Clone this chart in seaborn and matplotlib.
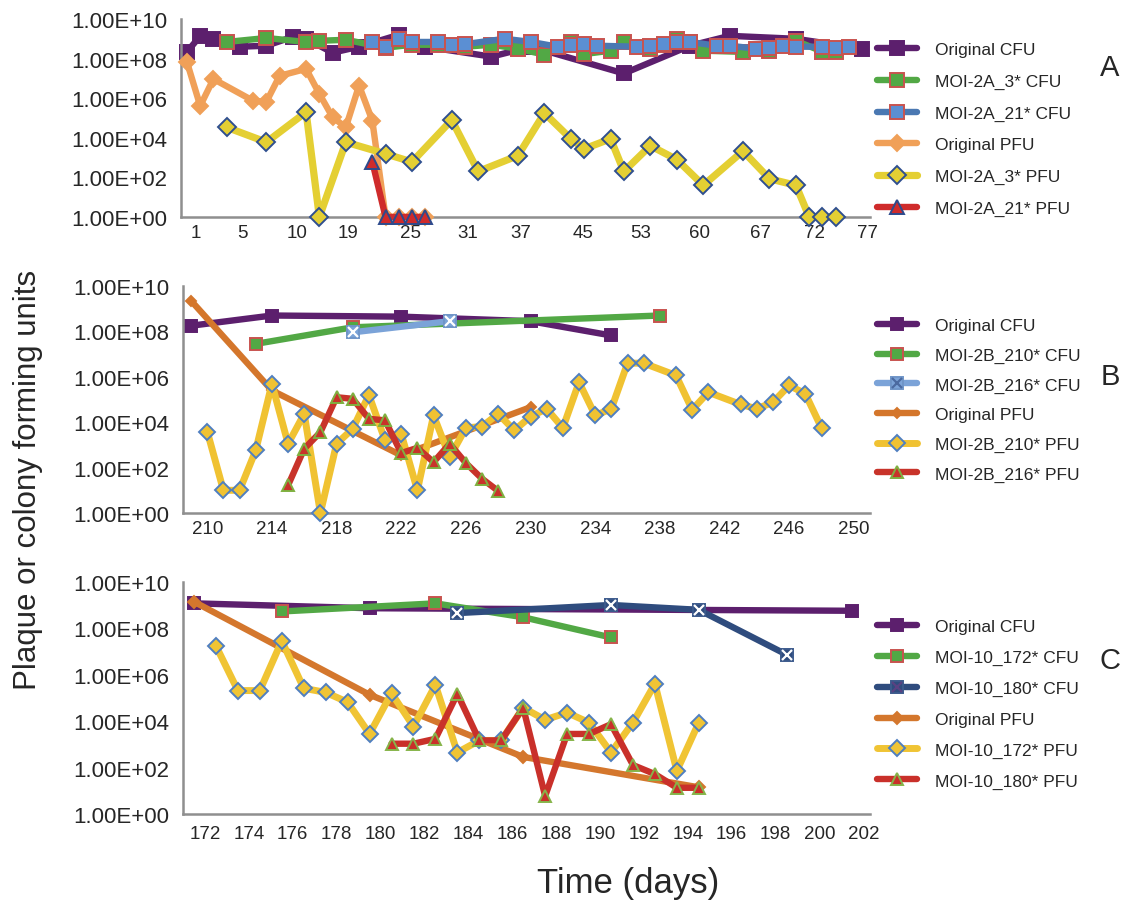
import numpy as np
import matplotlib
matplotlib.use("Agg")
import matplotlib.pyplot as plt
import seaborn as sns
from matplotlib.lines import Line2D
from matplotlib.legend_handler import HandlerTuple

sns.set_theme(style="white")
plt.rcParams['font.family'] = ['Liberation Sans', 'DejaVu Sans']

# ---------------- data (log10 of CFU / PFU) ----------------
# Panel A : x = sample index on the category axis
a_tick_labels = ["1", "5", "10", "19", "25", "31", "37", "45", "53", "60", "67", "72", "77"]
a_tick_pos = [0.7, 4.2, 8.3, 12.2, 16.9, 21.2, 25.2, 29.9, 34.3, 38.7, 43.3, 47.4, 51.4]

a_orig_cfu_x = [0, 1, 2, 4, 6, 8, 9, 11, 13, 16, 18, 23, 26, 33, 38, 41, 46, 51]
a_orig_cfu = [8.34, 9.14, 9.0, 8.6, 8.65, 9.1, 9.0, 8.3, 8.6, 9.2, 8.6, 8.1, 8.6, 7.25, 8.65, 9.15, 9.0, 8.5]

a_m3_cfu_x = [3, 6, 9, 10, 12, 15, 17, 19, 21, 23, 25, 27, 29, 30, 32, 33, 35, 36, 37, 38, 39, 42, 44, 46, 48, 49]
a_m3_cfu = [8.84, 9.04, 8.84, 8.9, 8.95, 8.55, 8.7, 8.7, 8.6, 8.7, 8.5, 8.2, 8.83, 8.23, 8.4, 8.83, 8.5, 8.7,
            9.0, 8.84, 8.4, 8.34, 8.4, 8.9, 8.35, 8.34]

a_m21_cfu_x = [14, 15, 16, 17, 19, 20, 21, 24, 26, 28, 29, 30, 31, 34, 35, 36, 37, 38, 40, 41, 43, 44, 45, 46, 48, 49, 50]
a_m21_cfu = [8.84, 8.6, 9.0, 8.84, 8.84, 8.7, 8.73, 9.0, 8.84, 8.6, 8.7, 8.73, 8.65, 8.6, 8.65, 8.73, 8.84,
             8.84, 8.65, 8.65, 8.5, 8.55, 8.65, 8.6, 8.6, 8.55, 8.6]

a_orig_pfu_x = [0, 1, 2, 5, 6, 7, 9, 10, 11, 12, 13, 14, 15, 16, 17, 18]
a_orig_pfu = [7.83, 5.61, 6.97, 5.87, 5.82, 7.13, 7.48, 6.22, 5.04, 4.53, 6.64, 4.87, 0, 0, 0, 0]

a_m3_pfu_x = [3, 6, 9, 10, 12, 15, 17, 20, 22, 25, 27, 29, 30, 32, 33, 35, 37, 39, 42, 44, 46, 47, 48, 49]
a_m3_pfu = [4.53, 3.78, 5.3, 0, 3.78, 3.19, 2.78, 4.9, 2.3, 3.1, 5.25, 3.95, 3.44, 3.95, 2.3, 3.6, 2.9, 1.6,
            3.33, 1.93, 1.6, 0, 0, 0]

a_m21_pfu_x = [14, 15, 16, 17, 18]
a_m21_pfu = [2.79, 0, 0, 0, 0]

# Panel B : x = day
b_tick_labels = [str(d) for d in range(210, 251, 4)]

b_orig_cfu_x = [209, 214, 222, 230, 235]
b_orig_cfu = [8.25, 8.7, 8.65, 8.45, 7.82]
b_m210_cfu_x = [213, 219, 238]
b_m210_cfu = [7.45, 8.18, 8.7]
b_m216_cfu_x = [219, 225]
b_m216_cfu = [7.96, 8.45]
b_orig_pfu_x = [209, 214, 222, 230]
b_orig_pfu = [9.35, 5.4, 2.54, 4.66]
b_m210_pfu_x = [210, 211, 212, 213, 214, 215, 216, 217, 218, 219, 220, 221, 222, 223, 224, 225, 226, 227, 228,
                229, 230, 231, 232, 233, 234, 235, 236, 237, 239, 240, 241, 243, 244, 245, 246, 247, 248]
b_m210_pfu = [3.59, 1.0, 1.0, 2.76, 5.69, 3.05, 4.37, 0, 3.05, 3.71, 5.2, 3.2, 3.49, 1.0, 4.3, 2.46, 3.75, 3.81,
              4.37, 3.64, 4.25, 4.59, 3.75, 5.76, 4.3, 4.59, 6.6, 6.6, 6.06, 4.55, 5.32, 4.78, 4.59, 4.88, 5.62,
              5.25, 3.75]
b_m216_pfu_x = [215, 216, 217, 218, 219, 220, 221, 222, 223, 224, 225, 226, 227, 228]
b_m216_pfu = [1.22, 2.83, 3.56, 5.1, 5.03, 4.15, 4.08, 2.64, 2.87, 2.24, 3.05, 2.2, 1.51, 0.97]

# Panel C : x = day (category), labels every second day
c_tick_labels = [str(d) for d in range(172, 203, 2)]

c_orig_cfu_x = [172, 180, 202]
c_orig_cfu = [9.08, 8.87, 8.76]
c_m172_cfu_x = [176, 183, 187, 191]
c_m172_cfu = [8.73, 9.08, 8.48, 7.61]
c_m180_cfu_x = [184, 191, 195, 199]
c_m180_cfu = [8.66, 9.01, 8.8, 6.87]
c_orig_pfu_x = [172, 180, 187, 195]
c_orig_pfu = [9.15, 5.14, 2.46, 1.15]
c_m172_pfu_x = [173, 174, 175, 176, 177, 178, 179, 180, 181, 182, 183, 184, 185, 186, 187, 188, 189, 190,
                191, 192, 193, 194, 195]
c_m172_pfu = [7.25, 5.32, 5.32, 7.46, 5.42, 5.24, 4.82, 3.45, 5.21, 3.77, 5.56, 2.65, 3.17, 3.17, 4.58, 4.06,
              4.37, 3.94, 2.65, 3.94, 5.61, 1.86, 3.94]
c_m180_pfu_x = [181, 182, 183, 184, 185, 186, 187, 188, 189, 190, 191, 192, 193, 194, 195]
c_m180_pfu = [3.03, 3.03, 3.24, 5.18, 3.17, 3.17, 4.58, 0.77, 3.45, 3.45, 3.87, 2.11, 1.72, 1.13, 1.13]

y_tick_labels = ["1.00E+00", "1.00E+02", "1.00E+04", "1.00E+06", "1.00E+08", "1.00E+10"]

# ---------------- styles ----------------
PURPLE = '#5c1f6d'
GREEN = '#52a845'
REDEDGE = '#c8534f'
TXT = '#262626'
SPINE = '#8f8f8f'

W, H = 1134, 904
fig = plt.figure(figsize=(W / 100, H / 100), dpi=100)


def axes_px(l, t, r, b):
    return fig.add_axes([l / W, 1 - b / H, (r - l) / W, (b - t) / H])


def series(ax, x, logs, color, marker, ms, mfc, mec, lw=4.6, z=2, mew=1.4):
    sns.lineplot(x=np.asarray(x, float), y=10.0 ** np.asarray(logs, float), ax=ax, color=color,
                 marker=marker, markersize=ms, markerfacecolor=mfc, markeredgecolor=mec,
                 markeredgewidth=mew, linewidth=lw, sort=False, estimator=None, zorder=z,
                 clip_on=False, legend=False)
    return Line2D([0], [0], color=color, lw=lw, marker=marker, markersize=ms, markerfacecolor=mfc,
                  markeredgecolor=mec, markeredgewidth=mew)


def xmarks(ax, x, logs, color, ms, z):
    sns.lineplot(x=np.asarray(x, float), y=10.0 ** np.asarray(logs, float), ax=ax, color=color,
                 marker='x', markersize=ms * 0.75, markeredgewidth=1.6, linewidth=0, sort=False,
                 estimator=None, zorder=z, clip_on=False, legend=False)
    return Line2D([0], [0], color=color, lw=0, marker='x', markersize=ms * 0.75, markeredgewidth=1.6)


def style_axis(ax, tickdir):
    ax.set_yscale('log')
    ax.set_ylim(1, 1e10)
    ax.set_yticks([1e0, 1e2, 1e4, 1e6, 1e8, 1e10])
    ax.set_yticklabels(y_tick_labels, fontsize=16, color=TXT)
    ax.yaxis.set_minor_locator(matplotlib.ticker.NullLocator())
    for s in ['top', 'right']:
        ax.spines[s].set_visible(False)
    for s in ['left', 'bottom']:
        ax.spines[s].set_color(SPINE)
        ax.spines[s].set_linewidth(1.8)
    ax.tick_params(axis='y', which='major', direction='out', length=4, width=1.5, color=SPINE, pad=6)
    ax.tick_params(axis='x', which='both', direction=tickdir, length=6 if tickdir == 'inout' else 4,
                   width=1.5, color=SPINE, labelsize=13.5, labelcolor=TXT, pad=5)
    ax.set_facecolor('white')
    ax.set_xlabel('')
    ax.set_ylabel('')


def add_legend(handles, labels, top_px, spacing):
    fig.legend(handles, labels, loc='upper left', bbox_to_anchor=(877 / W, 1 - top_px / H),
               frameon=False, fontsize=12.5, handlelength=2.3, handletextpad=1.05, labelspacing=spacing,
               borderpad=0, borderaxespad=0, numpoints=1,
               handler_map={tuple: HandlerTuple(ndivide=1)}, labelcolor=TXT)


# ---------------- panel A ----------------
axA = axes_px(181, 20, 870, 218)
h = []
h.append(series(axA, a_orig_cfu_x, a_orig_cfu, PURPLE, 's', 10, PURPLE, PURPLE, z=2))
h.append(series(axA, a_m3_cfu_x, a_m3_cfu, GREEN, 's', 10, GREEN, REDEDGE, z=3))
h.append(series(axA, a_m21_cfu_x, a_m21_cfu, '#4a78b2', 's', 10, '#5b8fd3', REDEDGE, z=4))
h.append(series(axA, a_orig_pfu_x, a_orig_pfu, '#f0a058', 'D', 8, '#f0a058', '#f0a058', z=5))
h.append(series(axA, a_m3_pfu_x, a_m3_pfu, '#e4cf33', 'D', 9, '#e4cf33', '#2f4f8f', lw=5.2, z=6))
h.append(series(axA, a_m21_pfu_x, a_m21_pfu, '#cf2b2b', '^', 10, '#cf2b2b', '#2d4a8c', z=7))
style_axis(axA, 'out')
axA.set_xlim(-0.45, 51.5)
axA.set_xticks(a_tick_pos)
axA.set_xticklabels(a_tick_labels)
axA.tick_params(axis='x', which='major', length=0)
axA.set_xticks(np.arange(-0.45, 51.6, 0.733), minor=True)
add_legend(h, ["Original CFU", "MOI-2A_3* CFU", "MOI-2A_21* CFU", "Original PFU", "MOI-2A_3* PFU",
               "MOI-2A_21* PFU"], 43, 0.95)

# ---------------- panel B ----------------
axB = axes_px(183, 287, 870, 514)
h = []
h.append(series(axB, b_orig_cfu_x, b_orig_cfu, PURPLE, 's', 9, PURPLE, PURPLE, z=2))
h.append(series(axB, b_m210_cfu_x, b_m210_cfu, GREEN, 's', 9, GREEN, REDEDGE, z=3))
sq = series(axB, b_m216_cfu_x, b_m216_cfu, '#7ba3d8', 's', 9, '#7ba3d8', '#6f95c8', z=4)
xm = xmarks(axB, b_m216_cfu_x, b_m216_cfu, '#4b6aa0', 9, 4.5)
h.append((sq, xm))
h.append(series(axB, b_orig_pfu_x, b_orig_pfu, '#d4762b', 'D', 5, '#d4762b', '#d4762b', z=5))
h.append(series(axB, b_m210_pfu_x, b_m210_pfu, '#f0c232', 'D', 8.5, '#f0c232', '#4f7fc0', lw=5.0, z=6))
h.append(series(axB, b_m216_pfu_x, b_m216_pfu, '#c8332a', '^', 9, '#c8332a', '#7fb040', z=7))
style_axis(axB, 'out')
axB.set_xlim(208.5, 251.0)
axB.set_xticks(np.arange(210, 251, 4))
axB.set_xticklabels(b_tick_labels)
axB.tick_params(axis='x', which='major', length=0)
axB.set_xticks(np.arange(208.5, 251.1, 1.0), minor=True)
add_legend(h, ["Original CFU", "MOI-2B_210* CFU", "MOI-2B_216* CFU", "Original PFU", "MOI-2B_210* PFU",
               "MOI-2B_216* PFU"], 319, 0.83)

# ---------------- panel C ----------------
axC = axes_px(183, 583, 870, 815)
h = []
h.append(series(axC, c_orig_cfu_x, c_orig_cfu, PURPLE, 's', 9, PURPLE, PURPLE, z=2))
h.append(series(axC, c_m172_cfu_x, c_m172_cfu, GREEN, 's', 9, GREEN, REDEDGE, z=3))
sq = series(axC, c_m180_cfu_x, c_m180_cfu, '#2f4c7e', 's', 9, '#2f4c7e', '#3c5a8c', z=4)
xm = xmarks(axC, c_m180_cfu_x, c_m180_cfu, '#5a4282', 9, 4.5)
h.append((sq, xm))
h.append(series(axC, c_orig_pfu_x, c_orig_pfu, '#d4772d', 'D', 6, '#d4772d', '#d4772d', z=5))
h.append(series(axC, c_m172_pfu_x, c_m172_pfu, '#f0c434', 'D', 8.5, '#f0c434', '#4f7fc0', lw=5.0, z=6))
h.append(series(axC, c_m180_pfu_x, c_m180_pfu, '#c9302a', '^', 9, '#c9302a', '#86b44a', z=7))
style_axis(axC, 'inout')
axC.set_xlim(171.55, 202.8)
axC.set_xticks(np.arange(172, 203, 2) + 0.5)
axC.set_xticklabels(c_tick_labels)
axC.set_xticks(np.arange(171.5, 202.8, 1.0), minor=True)
add_legend(h, ["Original CFU", "MOI-10_172* CFU", "MOI-10_180* CFU", "Original PFU", "MOI-10_172* PFU",
               "MOI-10_180* PFU"], 620, 0.9)

# ---------------- texts ----------------
for letter, ypx in [("A", 68), ("B", 377), ("C", 661)]:
    fig.text(1110 / W, 1 - ypx / H, letter, fontsize=21, color=TXT, ha='center', va='center')
fig.text(28 / W, 1 - 480 / H, "Plaque or colony forming units", rotation=90, fontsize=22.5, color=TXT,
         ha='center', va='center')
fig.text(628 / W, 1 - 884 / H, "Time (days)", fontsize=25, color=TXT, ha='center', va='center')

fig.savefig("out.png", dpi=100, facecolor='white')
